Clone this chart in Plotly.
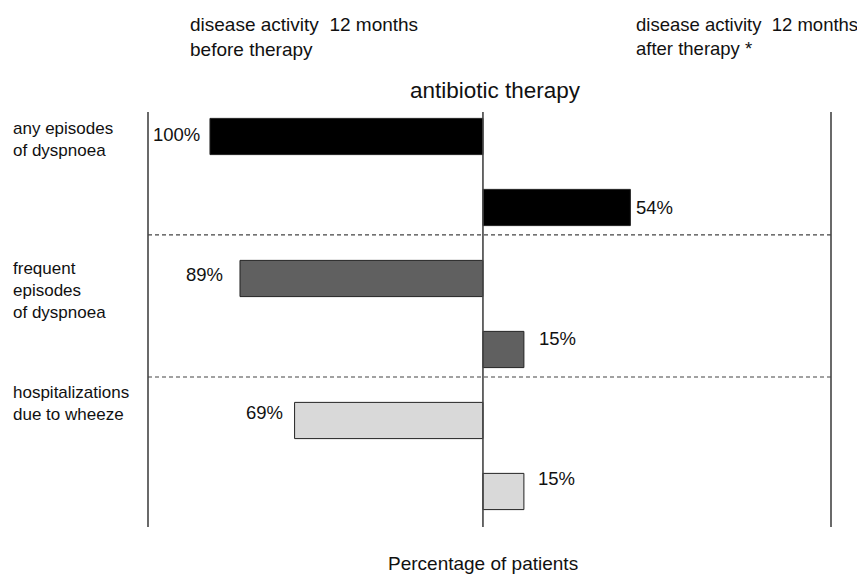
import plotly.graph_objects as go

# ---- data ----
categories = ["any episodes<br>of dyspnoea",
              "frequent<br>episodes<br>of dyspnoea",
              "hospitalizations<br>due to wheeze"]
before_pct = [100, 89, 69]
after_pct = [54, 15, 15]
value_labels_before = ["100%", "89%", "69%"]
value_labels_after = ["54%", "15%", "15%"]

# ---- styles / layout helpers ----
bar_colors = ["#000000", "#606060", "#d9d9d9"]
FONT = "Liberation Sans, Arial, sans-serif"
# pixel offsets for value labels (xshift, yshift) – layout tweaks only
before_shift = [(-8, 2), (-15, 4), (-10, 8)]
after_shift = [(4, 0), (13, 11), (12, 13)]
cat_label_y = [-0.28, 1.70, 3.44]
dash_y = [1.387, 3.387]

xs, ys, cols = [], [], []
for i in range(len(categories)):
    xs += [-before_pct[i], after_pct[i]]
    ys += [2 * i, 2 * i + 1]
    cols += [bar_colors[i], bar_colors[i]]

fig = go.Figure()
fig.add_trace(go.Bar(
    x=xs, y=ys, orientation="h", width=0.51,
    marker=dict(color=cols, line=dict(color="#222222", width=1)),
    hoverinfo="skip", showlegend=False,
))

annotations = []
for i in range(len(categories)):
    dx, dy = before_shift[i]
    annotations.append(dict(x=-before_pct[i], y=2 * i, xref="x", yref="y",
                            text=value_labels_before[i], showarrow=False,
                            xanchor="right", yanchor="middle",
                            xshift=dx, yshift=dy,
                            font=dict(size=18.5, color="#111", family=FONT)))
    dx, dy = after_shift[i]
    annotations.append(dict(x=after_pct[i], y=2 * i + 1, xref="x", yref="y",
                            text=value_labels_after[i], showarrow=False,
                            xanchor="left", yanchor="middle",
                            xshift=dx, yshift=dy,
                            font=dict(size=18.5, color="#111", family=FONT)))
    annotations.append(dict(x=-0.201, y=cat_label_y[i], xref="paper", yref="y",
                            text=categories[i], showarrow=False,
                            xanchor="left", yanchor="top", align="left",
                            font=dict(size=17, color="#111", family=FONT)))

annotations += [
    dict(x=0.0585, y=1.24, xref="paper", yref="paper",
         text="disease activity  12 months<br>before therapy", showarrow=False,
         xanchor="left", yanchor="top", align="left",
         font=dict(size=19, color="#111", family=FONT)),
    dict(x=0.7115, y=1.24, xref="paper", yref="paper",
         text="disease activity  12 months<br>after therapy *", showarrow=False,
         xanchor="left", yanchor="top", align="left",
         font=dict(size=18.5, color="#111", family=FONT)),
    dict(x=0.3807, y=1.053, xref="paper", yref="paper",
         text="antibiotic therapy", showarrow=False,
         xanchor="left", yanchor="middle",
         font=dict(size=22.5, color="#111", family=FONT)),
    dict(x=0, y=-0.089, xref="x", yref="paper",
         text="Percentage of patients", showarrow=False,
         xanchor="center", yanchor="middle",
         font=dict(size=19, color="#111", family=FONT)),
]

shapes = []
for xv, xr in [(0, "paper"), (1, "paper"), (0, "x")]:
    shapes.append(dict(type="line", xref=xr, yref="paper", x0=xv, x1=xv,
                       y0=0, y1=1, line=dict(color="#444444", width=1.6)))
for yv in dash_y:
    shapes.append(dict(type="line", xref="paper", yref="y", x0=0, x1=1,
                       y0=yv, y1=yv,
                       line=dict(color="#444444", width=1.2, dash="4px,3px")))

fig.update_layout(
    width=857, height=566,
    margin=dict(l=140, r=34, t=104, b=47),
    paper_bgcolor="white", plot_bgcolor="white",
    xaxis=dict(range=[-122.7, 127.5], visible=False, showgrid=False, zeroline=False),
    yaxis=dict(range=[5.5, -0.345], visible=False, showgrid=False, zeroline=False),
    annotations=annotations, shapes=shapes,
    font=dict(family=FONT),
)

fig.write_html("out.html")
